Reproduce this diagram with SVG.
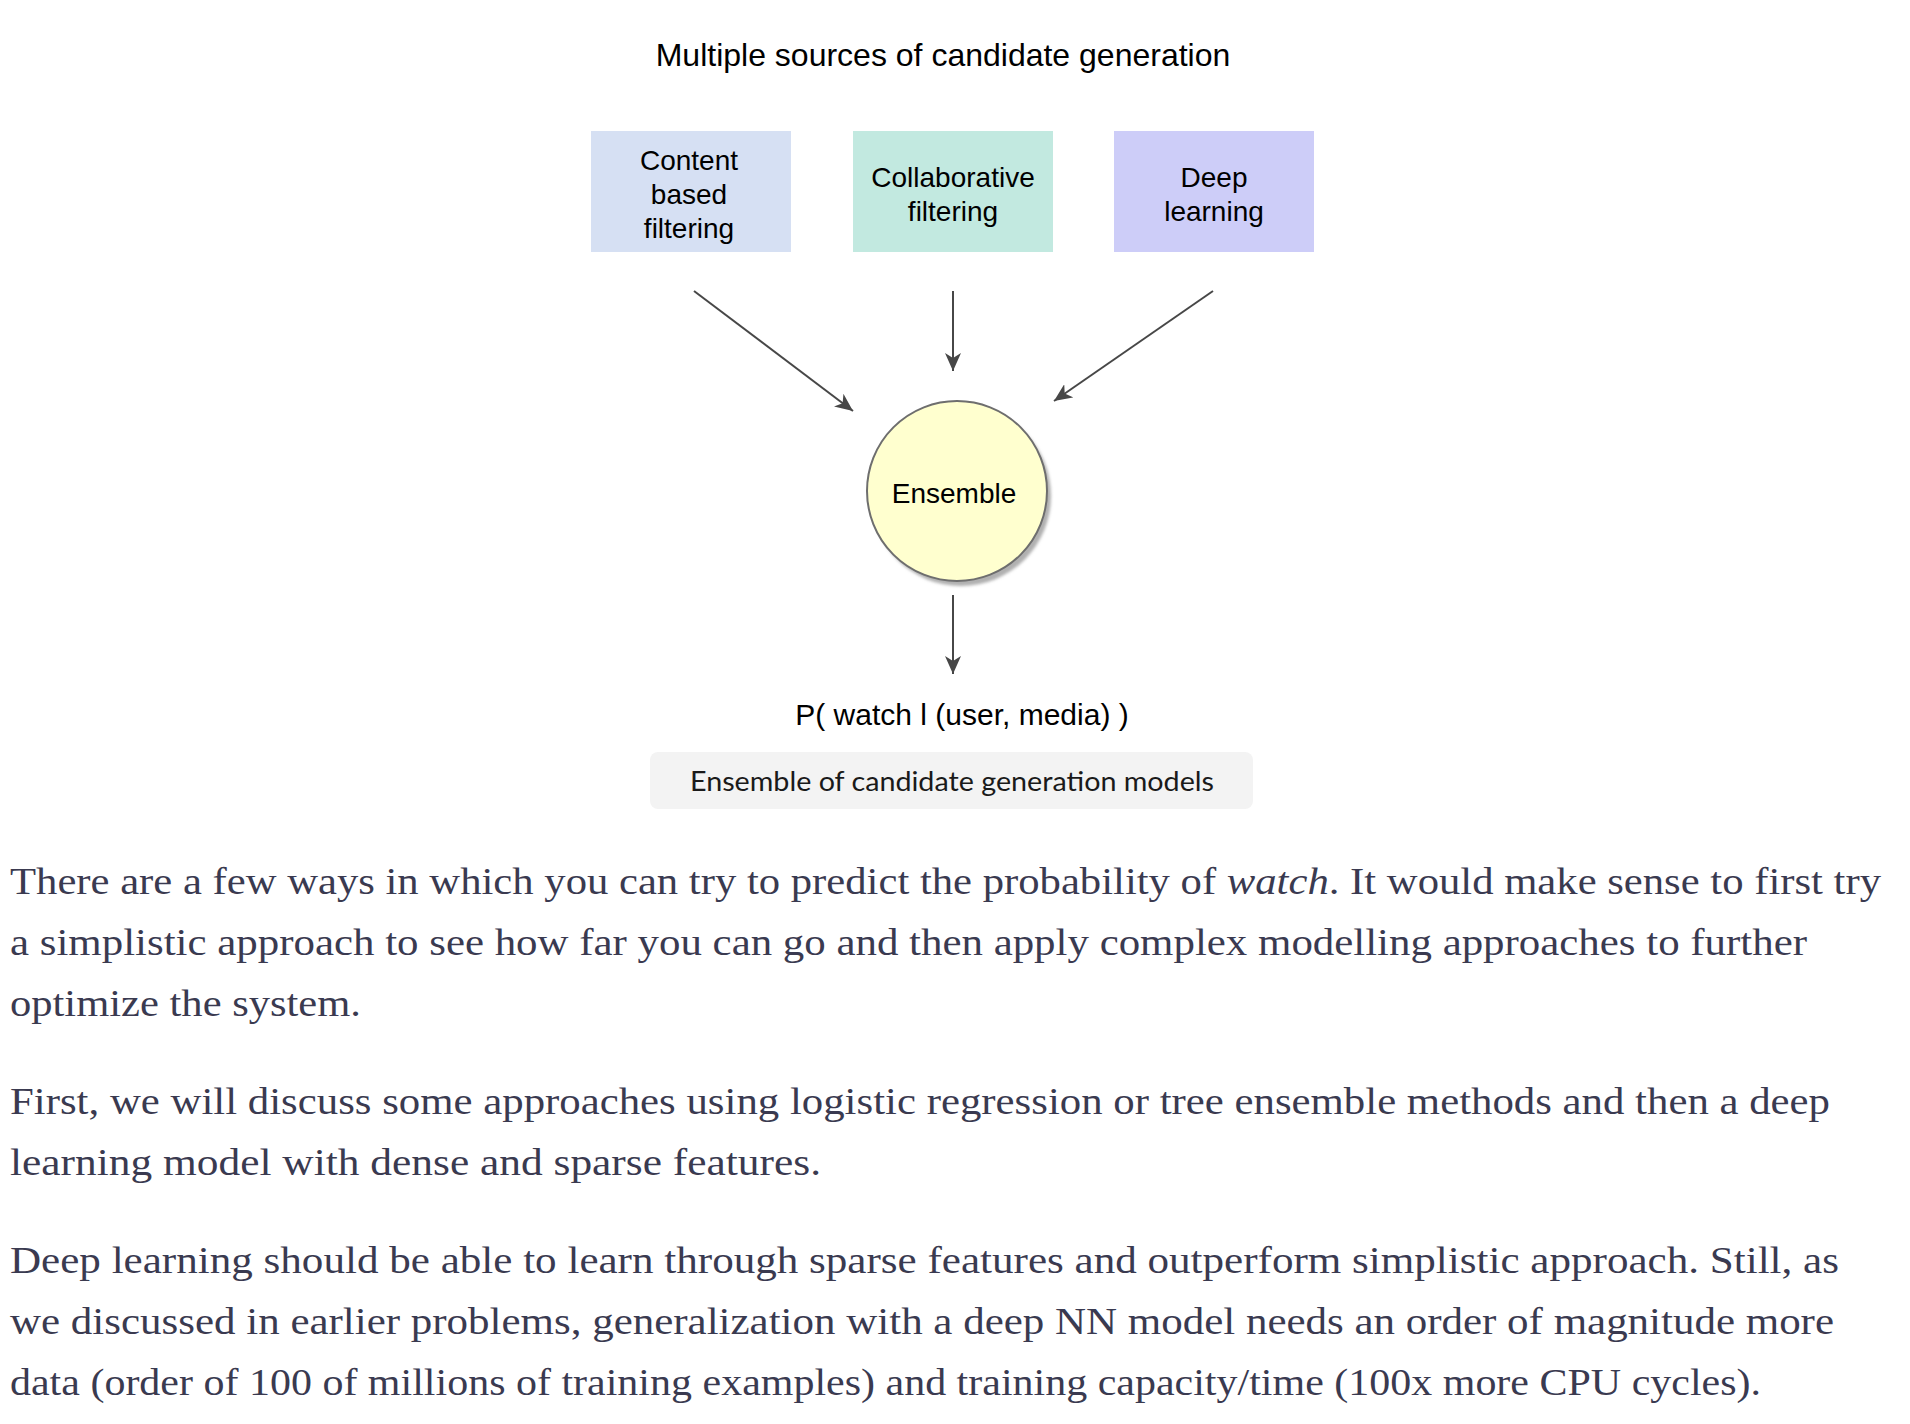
<svg xmlns="http://www.w3.org/2000/svg" width="1910" height="1424" viewBox="0 0 1910 1424">
<style>
.sans{font-family:"Liberation Sans",Arial,sans-serif;fill:#000;text-anchor:middle}
.box{font-size:28px}
.para{font-family:"Liberation Serif","Times New Roman",serif;font-size:38px;fill:#3a3a50}
.conn{stroke:#474747;stroke-width:2;fill:none;marker-end:url(#arr)}
</style>
<defs>
<marker id="arr" markerUnits="userSpaceOnUse" markerWidth="20" markerHeight="16" refX="18" refY="8" orient="auto">
<path d="M0,0 L18,8 L0,16 L5,8 z" fill="#474747"/>
</marker>
<filter id="sh" x="-20%" y="-20%" width="140%" height="140%">
<feGaussianBlur stdDeviation="1.5"/>
</filter>
</defs>
<rect width="1910" height="1424" fill="#fff"/>
<text id="title" class="sans" x="943" y="66" font-size="32">Multiple sources of candidate generation</text>
<g id="content-based">
<rect x="591" y="131" width="200" height="121" fill="#d6e0f3"/>
<text class="sans box" x="689" y="170">Content</text>
<text class="sans box" x="689" y="204">based</text>
<text class="sans box" x="689" y="238">filtering</text>
</g>
<g id="collaborative">
<rect x="853" y="131" width="200" height="121" fill="#c2e9e0"/>
<text class="sans box" x="953" y="187">Collaborative</text>
<text class="sans box" x="953" y="221">filtering</text>
</g>
<g id="deep-learning">
<rect x="1114" y="131" width="200" height="121" fill="#cdcdf8"/>
<text class="sans box" x="1214" y="187">Deep</text>
<text class="sans box" x="1214" y="221">learning</text>
</g>
<g id="ensemble">
<circle cx="961" cy="496" r="90" fill="#b0b0b0" filter="url(#sh)"/>
<circle cx="957" cy="491" r="90" fill="#ffffcf" stroke="#6e6e6e" stroke-width="2"/>
<text class="sans box" x="954" y="503">Ensemble</text>
</g>
<g id="output">
<text class="sans" x="962" y="725" font-size="30">P( watch l (user, media) )</text>
</g>
<g id="connectors">
<line class="conn" x1="694" y1="291" x2="853" y2="411"/>
<line class="conn" x1="953" y1="291" x2="953" y2="371"/>
<line class="conn" x1="1213" y1="291" x2="1054" y2="401"/>
<line class="conn" x1="953" y1="595" x2="953" y2="674"/>
</g>
<g id="caption">
<rect x="650" y="752" width="603" height="57" rx="8" fill="#f3f3f3"/>
<text x="952" y="791" font-family="Lato,'Open Sans',sans-serif" font-size="26" fill="#1a1a1a" text-anchor="middle" textLength="524" lengthAdjust="spacingAndGlyphs">Ensemble of candidate generation models</text>
</g>
<g id="paragraphs">
<text class="para" x="10" y="894" textLength="1871" lengthAdjust="spacingAndGlyphs">There are a few ways in which you can try to predict the probability of <tspan font-style="italic">watch</tspan>. It would make sense to first try</text>
<text class="para" x="10" y="955" textLength="1797" lengthAdjust="spacingAndGlyphs">a simplistic approach to see how far you can go and then apply complex modelling approaches to further</text>
<text class="para" x="10" y="1016" textLength="351" lengthAdjust="spacingAndGlyphs">optimize the system.</text>
<text class="para" x="10" y="1114" textLength="1820" lengthAdjust="spacingAndGlyphs">First, we will discuss some approaches using logistic regression or tree ensemble methods and then a deep</text>
<text class="para" x="10" y="1175" textLength="811" lengthAdjust="spacingAndGlyphs">learning model with dense and sparse features.</text>
<text class="para" x="10" y="1273" textLength="1829" lengthAdjust="spacingAndGlyphs">Deep learning should be able to learn through sparse features and outperform simplistic approach. Still, as</text>
<text class="para" x="10" y="1334" textLength="1824" lengthAdjust="spacingAndGlyphs">we discussed in earlier problems, generalization with a deep NN model needs an order of magnitude more</text>
<text class="para" x="10" y="1395" textLength="1751" lengthAdjust="spacingAndGlyphs">data (order of 100 of millions of training examples) and training capacity/time (100x more CPU cycles).</text>
</g>
</svg>
